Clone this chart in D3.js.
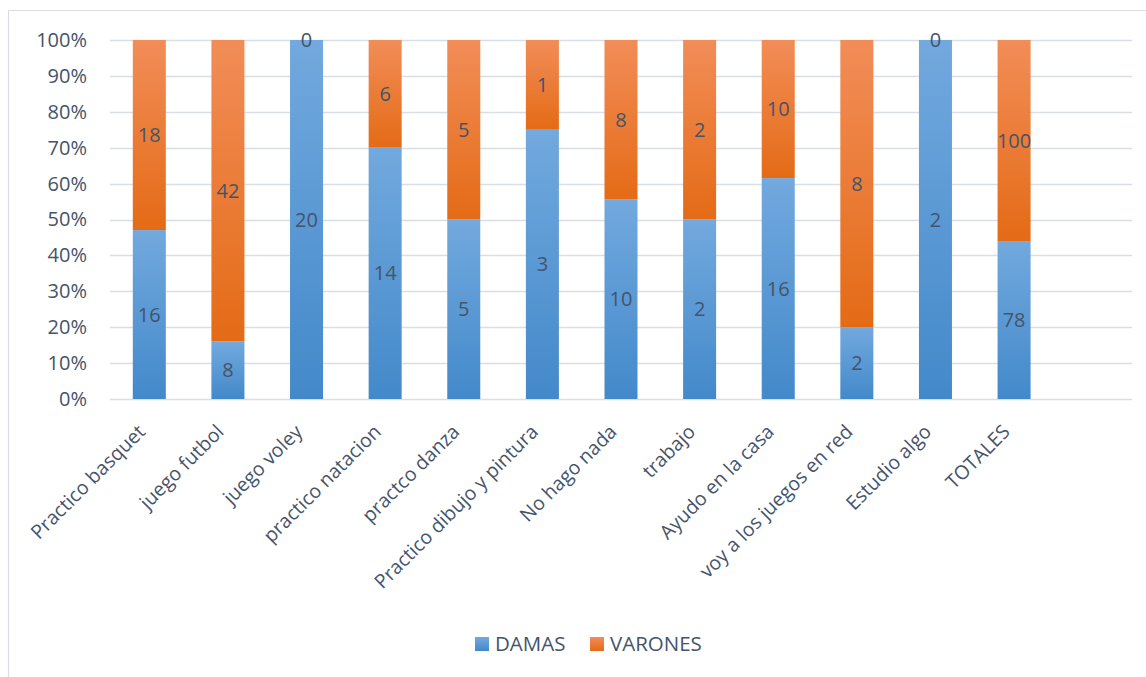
<!DOCTYPE html>
<html>
<head>
<meta charset="utf-8">
<script src="https://cdn.jsdelivr.net/npm/d3@7"></script>
<style>
  html, body { margin: 0; padding: 0; background: #fff; }
  svg { display: block; font-family: "Open Sans", sans-serif; }
</style>
</head>
<body>
<svg id="chart" width="1146" height="677"></svg>
<script>
// Activities reported, split by group
const categories = [
  "Practico basquet", "juego futbol", "juego voley", "practico natacion",
  "practco danza", "Practico dibujo y pintura", "No hago nada", "trabajo",
  "Ayudo en la casa", "voy a los juegos en red", "Estudio algo", "TOTALES"
];
const damas   = [16, 8, 20, 14, 5, 3, 10, 2, 16, 2, 2, 78];
const varones = [18, 42, 0, 6, 5, 1, 8, 2, 10, 8, 0, 100];
const seriesNames = ["DAMAS", "VARONES"];
const yTicks = [0, 0.1, 0.2, 0.3, 0.4, 0.5, 0.6, 0.7, 0.8, 0.9, 1];

const textColor = "#44546a";
const W = 1146, H = 677;
const plot = { left: 110, right: 1132, top: 40, bottom: 399 };

const svg = d3.select("#chart");
const defs = svg.append("defs");

function addGradient(id, top, bottom) {
  const g = defs.append("linearGradient").attr("id", id)
    .attr("x1", 0).attr("y1", 0).attr("x2", 0).attr("y2", 1);
  g.append("stop").attr("offset", "0%").attr("stop-color", top);
  g.append("stop").attr("offset", "100%").attr("stop-color", bottom);
}
addGradient("gradBlue", "#72a9de", "#4389ca");
addGradient("gradOrange", "#f28d58", "#e46b16");
const fills = ["url(#gradBlue)", "url(#gradOrange)"];
const swatch = ["gradBlue", "gradOrange"];

// Chart frame
svg.append("line").attr("x1", 8.5).attr("x2", 8.5).attr("y1", 10.5).attr("y2", H)
  .attr("stroke", "#d9dde3").attr("stroke-width", 1.2);
svg.append("line").attr("x1", 8.5).attr("x2", W).attr("y1", 10.5).attr("y2", 10.5)
  .attr("stroke", "#d9dde3").attr("stroke-width", 1.2);

// Scales: an extra empty slot after the last category
const slots = categories.concat([" "]);
const x = d3.scaleBand().domain(slots).range([plot.left, plot.right])
  .paddingInner(0.58).paddingOuter(0.29);
const y = d3.scaleLinear().domain([0, 1]).range([plot.bottom, plot.top]);

// Gridlines
svg.append("g").selectAll("line").data(yTicks).join("line")
  .attr("x1", plot.left).attr("x2", plot.right)
  .attr("y1", d => Math.round(y(d)) + 0.5).attr("y2", d => Math.round(y(d)) + 0.5)
  .attr("stroke", "#d9dde4").attr("stroke-width", 1.5);

// Y axis labels
const yAxis = d3.axisLeft(y).tickValues(yTicks).tickFormat(d3.format(".0%")).tickSize(0).tickPadding(0);
const yg = svg.append("g").attr("transform", `translate(${plot.left - 23},0)`).call(yAxis);
yg.select(".domain").remove();
yg.selectAll("text").attr("fill", textColor).attr("font-size", 20)
  .attr("font-family", "'Open Sans', sans-serif");

// Stack to percentages
const rows = categories.map((c, i) => ({ cat: c, DAMAS: damas[i], VARONES: varones[i] }));
const stack = d3.stack().keys(seriesNames).offset(d3.stackOffsetExpand);
const layers = stack(rows);

layers.forEach((layer, li) => {
  const g = svg.append("g");
  g.selectAll("rect").data(layer).join("rect")
    .attr("x", d => x(d.data.cat))
    .attr("width", x.bandwidth())
    .attr("y", d => y(d[1]))
    .attr("height", d => y(d[0]) - y(d[1]))
    .attr("fill", fills[li]);
});

// Value labels at the middle of each segment
layers.forEach((layer, li) => {
  svg.append("g").selectAll("text").data(layer).join("text")
    .attr("x", d => x(d.data.cat) + x.bandwidth() / 2)
    .attr("y", d => y((d[0] + d[1]) / 2))
    .attr("dy", "0.35em")
    .attr("text-anchor", "middle")
    .attr("fill", textColor)
    .attr("font-size", 20)
    .text(d => d.data[layer.key]);
});

// Rotated category labels
const xAxis = d3.axisBottom(x).tickValues(categories).tickSize(0).tickPadding(0);
const xg = svg.append("g").attr("transform", `translate(0,${plot.bottom})`).call(xAxis);
xg.select(".domain").remove();
xg.selectAll("text")
  .attr("fill", textColor).attr("font-size", 19.5)
  .attr("font-family", "'Open Sans', sans-serif")
  .attr("text-anchor", "end")
  .attr("dy", "0")
  .attr("y", 0)
  .attr("transform", "translate(-3,34) rotate(-45)");

// Legend
const legend = svg.append("g").attr("transform", "translate(475,637)");
const items = legend.selectAll("g").data(seriesNames).join("g")
  .attr("transform", (d, i) => `translate(${i * 115},0)`);
items.append("rect").attr("width", 14).attr("height", 14)
  .attr("fill", (d, i) => `url(#${swatch[i]})`);
items.append("text").attr("x", 20).attr("y", 7).attr("dy", "0.35em")
  .attr("fill", textColor).attr("font-size", 20.5).text(d => d);
</script>
</body>
</html>
